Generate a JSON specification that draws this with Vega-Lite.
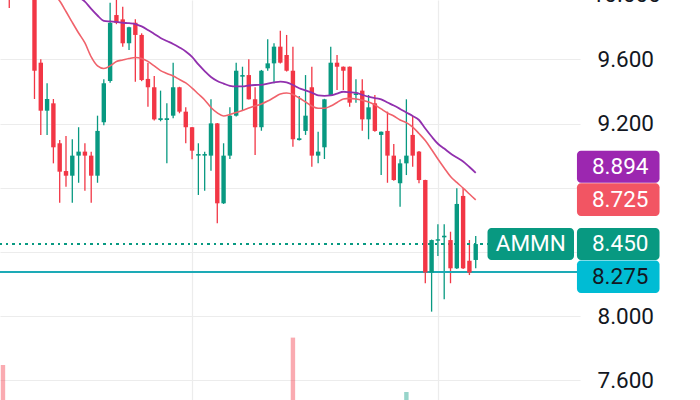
{
  "$schema": "https://vega.github.io/schema/vega-lite/v6.json",
  "width": 580,
  "height": 400,
  "autosize": "none",
  "padding": {"left": 0, "top": 0, "right": 120, "bottom": 0},
  "background": "#ffffff",
  "config": {"view": {"stroke": null}, "font": "Roboto"},
  "datasets": {
    "candles": [
      {"i":-4,"o":10.095,"h":10.15,"l":9.921,"c":10.002,"d":"d"},
      {"i":-3,"o":10.0,"h":10.14,"l":9.98,"c":10.10,"d":"u"},
      {"i":-2,"o":10.10,"h":10.15,"l":10.0,"c":10.04,"d":"d"},
      {"i":-1,"o":10.04,"h":10.12,"l":10.0,"c":10.08,"d":"u"},
      {"i":0,"o":10.08,"h":10.12,"l":9.354,"c":9.530,"d":"d","e1":10.220,"e2":10.251},
      {"i":1,"o":9.580,"h":9.601,"l":9.130,"c":9.281,"d":"d","e1":10.145,"e2":10.207},
      {"i":2,"o":9.281,"h":9.452,"l":9.130,"c":9.354,"d":"u","e1":10.077,"e2":10.164},
      {"i":3,"o":9.327,"h":9.354,"l":8.953,"c":9.053,"d":"d","e1":10.014,"e2":10.126},
      {"i":4,"o":9.078,"h":9.098,"l":8.708,"c":8.901,"d":"d","e1":9.964,"e2":10.089},
      {"i":5,"o":8.905,"h":9.123,"l":8.807,"c":8.876,"d":"d","e1":9.899,"e2":10.052},
      {"i":6,"o":8.876,"h":9.103,"l":8.708,"c":9.001,"d":"u","e1":9.831,"e2":10.021},
      {"i":7,"o":9.001,"h":9.178,"l":8.832,"c":9.026,"d":"u","e1":9.765,"e2":9.989},
      {"i":8,"o":9.026,"h":9.078,"l":8.783,"c":9.001,"d":"d","e1":9.703,"e2":9.961},
      {"i":9,"o":9.001,"h":9.026,"l":8.708,"c":8.876,"d":"d","e1":9.616,"e2":9.915},
      {"i":10,"o":8.876,"h":9.250,"l":8.832,"c":9.155,"d":"u","e1":9.560,"e2":9.874},
      {"i":11,"o":9.209,"h":9.477,"l":9.190,"c":9.452,"d":"u","e1":9.544,"e2":9.841},
      {"i":12,"o":9.466,"h":9.954,"l":9.455,"c":9.829,"d":"u","e1":9.560,"e2":9.837},
      {"i":13,"o":9.877,"h":10.00,"l":9.820,"c":9.829,"d":"d","e1":9.588,"e2":9.834},
      {"i":14,"o":9.850,"h":9.929,"l":9.680,"c":9.701,"d":"d","e1":9.597,"e2":9.829},
      {"i":15,"o":9.701,"h":9.804,"l":9.659,"c":9.801,"d":"u","e1":9.606,"e2":9.826},
      {"i":16,"o":9.829,"h":9.850,"l":9.462,"c":9.753,"d":"d","e1":9.612,"e2":9.821},
      {"i":17,"o":9.753,"h":9.763,"l":9.465,"c":9.472,"d":"d","e1":9.606,"e2":9.806},
      {"i":18,"o":9.479,"h":9.580,"l":9.306,"c":9.427,"d":"d","e1":9.588,"e2":9.784},
      {"i":19,"o":9.427,"h":9.497,"l":9.220,"c":9.227,"d":"d","e1":9.560,"e2":9.759},
      {"i":20,"o":9.223,"h":9.406,"l":9.215,"c":9.234,"d":"u","e1":9.531,"e2":9.734},
      {"i":21,"o":9.223,"h":9.327,"l":8.953,"c":9.234,"d":"u","e1":9.513,"e2":9.715},
      {"i":22,"o":9.250,"h":9.580,"l":9.234,"c":9.427,"d":"u","e1":9.497,"e2":9.697},
      {"i":23,"o":9.427,"h":9.430,"l":9.265,"c":9.275,"d":"d","e1":9.475,"e2":9.675},
      {"i":24,"o":9.275,"h":9.302,"l":9.078,"c":9.178,"d":"d","e1":9.454,"e2":9.650},
      {"i":25,"o":9.178,"h":9.180,"l":8.978,"c":9.032,"d":"d","e1":9.422,"e2":9.616},
      {"i":26,"o":9.001,"h":9.078,"l":8.756,"c":9.011,"d":"u","e1":9.385,"e2":9.569},
      {"i":27,"o":9.001,"h":9.026,"l":8.783,"c":9.011,"d":"u","e1":9.348,"e2":9.528},
      {"i":28,"o":9.001,"h":9.352,"l":8.907,"c":9.202,"d":"u","e1":9.301,"e2":9.491},
      {"i":29,"o":9.202,"h":9.205,"l":8.579,"c":8.704,"d":"d","e1":9.267,"e2":9.466},
      {"i":30,"o":8.704,"h":9.078,"l":8.700,"c":9.001,"d":"u","e1":9.248,"e2":9.450},
      {"i":31,"o":9.001,"h":9.302,"l":8.980,"c":9.250,"d":"u","e1":9.257,"e2":9.436},
      {"i":32,"o":9.250,"h":9.580,"l":9.245,"c":9.530,"d":"u","e1":9.270,"e2":9.432},
      {"i":33,"o":9.493,"h":9.555,"l":9.285,"c":9.503,"d":"u","e1":9.282,"e2":9.432},
      {"i":34,"o":9.503,"h":9.601,"l":9.350,"c":9.352,"d":"d","e1":9.298,"e2":9.438},
      {"i":35,"o":9.352,"h":9.427,"l":9.005,"c":9.178,"d":"d","e1":9.310,"e2":9.441},
      {"i":36,"o":9.178,"h":9.535,"l":9.156,"c":9.530,"d":"u","e1":9.323,"e2":9.442},
      {"i":37,"o":9.545,"h":9.726,"l":9.530,"c":9.576,"d":"u","e1":9.341,"e2":9.450},
      {"i":38,"o":9.576,"h":9.701,"l":9.452,"c":9.680,"d":"u","e1":9.363,"e2":9.457},
      {"i":39,"o":9.680,"h":9.779,"l":9.575,"c":9.580,"d":"d","e1":9.385,"e2":9.462},
      {"i":40,"o":9.628,"h":9.753,"l":9.525,"c":9.530,"d":"d","e1":9.391,"e2":9.457},
      {"i":41,"o":9.530,"h":9.680,"l":9.057,"c":9.103,"d":"d","e1":9.382,"e2":9.441},
      {"i":42,"o":9.098,"h":9.373,"l":9.095,"c":9.109,"d":"u","e1":9.360,"e2":9.421},
      {"i":43,"o":9.155,"h":9.503,"l":9.130,"c":9.250,"d":"u","e1":9.335,"e2":9.408},
      {"i":44,"o":9.427,"h":9.555,"l":8.932,"c":9.001,"d":"d","e1":9.310,"e2":9.394},
      {"i":45,"o":9.001,"h":9.150,"l":8.953,"c":9.026,"d":"u","e1":9.296,"e2":9.376},
      {"i":46,"o":9.053,"h":9.355,"l":8.980,"c":9.352,"d":"u","e1":9.296,"e2":9.373},
      {"i":47,"o":9.379,"h":9.680,"l":9.375,"c":9.580,"d":"u","e1":9.310,"e2":9.376},
      {"i":48,"o":9.580,"h":9.628,"l":9.410,"c":9.555,"d":"d","e1":9.332,"e2":9.388},
      {"i":49,"o":9.555,"h":9.556,"l":9.410,"c":9.530,"d":"d","e1":9.354,"e2":9.399},
      {"i":50,"o":9.555,"h":9.556,"l":9.306,"c":9.331,"d":"d","e1":9.358,"e2":9.396},
      {"i":51,"o":9.379,"h":9.477,"l":9.331,"c":9.389,"d":"u","e1":9.354,"e2":9.393},
      {"i":52,"o":9.406,"h":9.477,"l":9.156,"c":9.227,"d":"d","e1":9.346,"e2":9.380},
      {"i":53,"o":9.227,"h":9.379,"l":9.103,"c":9.302,"d":"u","e1":9.335,"e2":9.368},
      {"i":54,"o":9.327,"h":9.379,"l":9.150,"c":9.155,"d":"d","e1":9.317,"e2":9.360},
      {"i":55,"o":9.130,"h":9.152,"l":8.880,"c":9.150,"d":"u","e1":9.292,"e2":9.352},
      {"i":56,"o":9.155,"h":9.275,"l":8.832,"c":9.001,"d":"d","e1":9.267,"e2":9.332},
      {"i":57,"o":9.001,"h":9.074,"l":8.845,"c":8.849,"d":"d","e1":9.248,"e2":9.313},
      {"i":58,"o":8.829,"h":8.978,"l":8.683,"c":8.953,"d":"u","e1":9.223,"e2":9.292},
      {"i":59,"o":8.953,"h":9.352,"l":8.880,"c":9.001,"d":"u","e1":9.207,"e2":9.270},
      {"i":60,"o":9.130,"h":9.248,"l":8.932,"c":9.001,"d":"d","e1":9.179,"e2":9.248},
      {"i":61,"o":9.026,"h":9.030,"l":8.829,"c":8.849,"d":"d","e1":9.139,"e2":9.223},
      {"i":62,"o":8.849,"h":8.850,"l":8.206,"c":8.272,"d":"d","e1":9.095,"e2":9.170},
      {"i":63,"o":8.272,"h":8.478,"l":8.029,"c":8.475,"d":"u","e1":9.039,"e2":9.120},
      {"i":64,"o":8.471,"h":8.573,"l":8.376,"c":8.480,"d":"u","e1":8.980,"e2":9.075},
      {"i":65,"o":8.492,"h":8.573,"l":8.106,"c":8.502,"d":"u","e1":8.924,"e2":9.045},
      {"i":66,"o":8.475,"h":8.527,"l":8.206,"c":8.299,"d":"d","e1":8.871,"e2":9.014},
      {"i":67,"o":8.299,"h":8.798,"l":8.295,"c":8.700,"d":"u","e1":8.834,"e2":8.989},
      {"i":68,"o":8.750,"h":8.798,"l":8.295,"c":8.299,"d":"d","e1":8.799,"e2":8.964},
      {"i":69,"o":8.346,"h":8.475,"l":8.257,"c":8.272,"d":"d","e1":8.762,"e2":8.930},
      {"i":70,"o":8.351,"h":8.500,"l":8.299,"c":8.450,"d":"u","e1":8.725,"e2":8.894}
    ],
    "volume": [
      {"i":-5,"vol":1.75,"d":"d"},
      {"i":41,"vol":3.12,"d":"d"},
      {"i":59,"vol":0.40,"d":"u"}
    ],
    "tags": [
      {"k":"ma2","label":"8.894","x0":86.06,"x1":99.16,"y0":9.0318,"y1":8.8324,"tx":92.92,"ty":8.932},
      {"k":"ma1","label":"8.725","x0":86.06,"x1":99.16,"y0":8.8287,"y1":8.6249,"tx":92.92,"ty":8.726},
      {"k":"last","label":"8.450","x0":86.06,"x1":99.16,"y0":8.5502,"y1":8.3508,"tx":92.92,"ty":8.450},
      {"k":"lvl","label":"8.275","x0":86.06,"x1":99.16,"y0":8.3476,"y1":8.1452,"tx":92.92,"ty":8.246},
      {"k":"last","label":"AMMN","x0":71.87,"x1":85.59,"y0":8.5502,"y1":8.3508,"tx":78.73,"ty":8.450}
    ],
    "toptick": [{"v":10.0,"t":"10.000","tx":88.4}]
  },
  "layer": [
    {
      "data": {"name": "volume"},
      "mark": {"type": "bar", "size": 4.4, "opacity": 0.42, "clip": true},
      "encoding": {
        "x": {"field": "i", "type": "quantitative", "scale": {"domain": [-4.677, 85.75], "nice": false, "zero": false},
              "axis": {"values": [25, 64], "grid": true, "gridColor": "#ececec", "gridWidth": 1.2, "labels": false, "ticks": false, "domain": false, "title": null}},
        "y": {"field": "vol", "type": "quantitative", "scale": {"domain": [0, 20], "nice": false}, "axis": null},
        "color": {"field": "d", "type": "nominal", "legend": null,
                  "scale": {"domain": ["u","d","ma1","ma2","last","lvl"], "range": ["#089981","#F23645","#F25563","#9C27B0","#089981","#00BCD4"]}}
      }
    },
    {
      "layer": [
        {
          "data": {"name": "candles"},
          "mark": {"type": "rule", "strokeWidth": 1.3, "clip": true},
          "encoding": {
            "x": {"field": "i", "type": "quantitative", "scale": {"domain": [-4.677, 85.75], "nice": false, "zero": false},
                  "axis": {"values": [25, 64], "grid": true, "gridColor": "#ececec", "gridWidth": 1.2, "labels": false, "ticks": false, "domain": false, "title": null}},
            "y": {"field": "l", "type": "quantitative", "scale": {"domain": [7.4785, 9.9707], "nice": false, "zero": false},
                  "axis": {"orient": "right", "values": [7.6, 8, 8.4, 8.8, 9.2, 9.6], "format": ".3f", "labelExpr": "datum.value == 8.4 || datum.value == 8.8 ? '' : datum.label", "grid": true, "gridColor": "#ececec", "gridWidth": 1.2, "ticks": false, "domain": false, "labelPadding": 17, "labelFontSize": 22.5, "labelFont": "Roboto", "labelColor": "#131722", "labelAlign": "left", "labelBaseline": "middle", "labelOverlap": false, "labelFlush": false, "title": null}},
            "y2": {"field": "h"},
            "color": {"field": "d", "type": "nominal", "legend": null,
                      "scale": {"domain": ["u","d","ma1","ma2","last","lvl"], "range": ["#089981","#F23645","#F25563","#9C27B0","#089981","#00BCD4"]}}
          }
        },
        {
          "data": {"name": "candles"},
          "mark": {"type": "rule", "color": "#089981", "strokeWidth": 2, "strokeDash": [2, 4.5]},
          "encoding": {"y": {"datum": 8.45, "type": "quantitative", "scale": {"domain": [7.4785, 9.9707], "nice": false, "zero": false},
                  "axis": {"orient": "right", "values": [7.6, 8, 8.4, 8.8, 9.2, 9.6], "format": ".3f", "labelExpr": "datum.value == 8.4 || datum.value == 8.8 ? '' : datum.label", "grid": true, "gridColor": "#ececec", "gridWidth": 1.2, "ticks": false, "domain": false, "labelPadding": 17, "labelFontSize": 22.5, "labelFont": "Roboto", "labelColor": "#131722", "labelAlign": "left", "labelBaseline": "middle", "labelOverlap": false, "labelFlush": false, "title": null}}}
        },
        {
          "data": {"name": "candles"},
          "mark": {"type": "rule", "color": "#1DAAB6", "strokeWidth": 1.8},
          "encoding": {"y": {"datum": 8.275, "type": "quantitative", "scale": {"domain": [7.4785, 9.9707], "nice": false, "zero": false},
                  "axis": {"orient": "right", "values": [7.6, 8, 8.4, 8.8, 9.2, 9.6], "format": ".3f", "labelExpr": "datum.value == 8.4 || datum.value == 8.8 ? '' : datum.label", "grid": true, "gridColor": "#ececec", "gridWidth": 1.2, "ticks": false, "domain": false, "labelPadding": 17, "labelFontSize": 22.5, "labelFont": "Roboto", "labelColor": "#131722", "labelAlign": "left", "labelBaseline": "middle", "labelOverlap": false, "labelFlush": false, "title": null}}}
        },
        {
          "data": {"name": "candles"},
          "mark": {"type": "bar", "size": 4.4, "clip": true},
          "encoding": {
            "x": {"field": "i", "type": "quantitative", "scale": {"domain": [-4.677, 85.75], "nice": false, "zero": false},
                  "axis": {"values": [25, 64], "grid": true, "gridColor": "#ececec", "gridWidth": 1.2, "labels": false, "ticks": false, "domain": false, "title": null}},
            "y": {"field": "o", "type": "quantitative", "scale": {"domain": [7.4785, 9.9707], "nice": false, "zero": false},
                  "axis": {"orient": "right", "values": [7.6, 8, 8.4, 8.8, 9.2, 9.6], "format": ".3f", "labelExpr": "datum.value == 8.4 || datum.value == 8.8 ? '' : datum.label", "grid": true, "gridColor": "#ececec", "gridWidth": 1.2, "ticks": false, "domain": false, "labelPadding": 17, "labelFontSize": 22.5, "labelFont": "Roboto", "labelColor": "#131722", "labelAlign": "left", "labelBaseline": "middle", "labelOverlap": false, "labelFlush": false, "title": null}},
            "y2": {"field": "c"},
            "color": {"field": "d", "type": "nominal", "legend": null,
                      "scale": {"domain": ["u","d","ma1","ma2","last","lvl"], "range": ["#089981","#F23645","#F25563","#9C27B0","#089981","#00BCD4"]}}
          }
        },
        {
          "data": {"name": "candles"},
          "mark": {"type": "line", "color": "#F0626B", "strokeWidth": 1.6, "clip": true, "interpolate": "monotone"},
          "encoding": {
            "x": {"field": "i", "type": "quantitative", "scale": {"domain": [-4.677, 85.75], "nice": false, "zero": false},
                  "axis": {"values": [25, 64], "grid": true, "gridColor": "#ececec", "gridWidth": 1.2, "labels": false, "ticks": false, "domain": false, "title": null}},
            "y": {"field": "e1", "type": "quantitative", "scale": {"domain": [7.4785, 9.9707], "nice": false, "zero": false},
                  "axis": {"orient": "right", "values": [7.6, 8, 8.4, 8.8, 9.2, 9.6], "format": ".3f", "labelExpr": "datum.value == 8.4 || datum.value == 8.8 ? '' : datum.label", "grid": true, "gridColor": "#ececec", "gridWidth": 1.2, "ticks": false, "domain": false, "labelPadding": 17, "labelFontSize": 22.5, "labelFont": "Roboto", "labelColor": "#131722", "labelAlign": "left", "labelBaseline": "middle", "labelOverlap": false, "labelFlush": false, "title": null}}
          }
        },
        {
          "data": {"name": "candles"},
          "mark": {"type": "line", "color": "#9130AE", "strokeWidth": 1.8, "clip": true, "interpolate": "monotone"},
          "encoding": {
            "x": {"field": "i", "type": "quantitative", "scale": {"domain": [-4.677, 85.75], "nice": false, "zero": false},
                  "axis": {"values": [25, 64], "grid": true, "gridColor": "#ececec", "gridWidth": 1.2, "labels": false, "ticks": false, "domain": false, "title": null}},
            "y": {"field": "e2", "type": "quantitative", "scale": {"domain": [7.4785, 9.9707], "nice": false, "zero": false},
                  "axis": {"orient": "right", "values": [7.6, 8, 8.4, 8.8, 9.2, 9.6], "format": ".3f", "labelExpr": "datum.value == 8.4 || datum.value == 8.8 ? '' : datum.label", "grid": true, "gridColor": "#ececec", "gridWidth": 1.2, "ticks": false, "domain": false, "labelPadding": 17, "labelFontSize": 22.5, "labelFont": "Roboto", "labelColor": "#131722", "labelAlign": "left", "labelBaseline": "middle", "labelOverlap": false, "labelFlush": false, "title": null}}
          }
        },
        {
          "data": {"name": "tags"},
          "mark": {"type": "rect", "cornerRadius": 4},
          "encoding": {
            "x": {"field": "x0", "type": "quantitative", "scale": {"domain": [-4.677, 85.75], "nice": false, "zero": false},
                  "axis": {"values": [25, 64], "grid": true, "gridColor": "#ececec", "gridWidth": 1.2, "labels": false, "ticks": false, "domain": false, "title": null}},
            "x2": {"field": "x1"},
            "y": {"field": "y0", "type": "quantitative", "scale": {"domain": [7.4785, 9.9707], "nice": false, "zero": false},
                  "axis": {"orient": "right", "values": [7.6, 8, 8.4, 8.8, 9.2, 9.6], "format": ".3f", "labelExpr": "datum.value == 8.4 || datum.value == 8.8 ? '' : datum.label", "grid": true, "gridColor": "#ececec", "gridWidth": 1.2, "ticks": false, "domain": false, "labelPadding": 17, "labelFontSize": 22.5, "labelFont": "Roboto", "labelColor": "#131722", "labelAlign": "left", "labelBaseline": "middle", "labelOverlap": false, "labelFlush": false, "title": null}},
            "y2": {"field": "y1"},
            "color": {"field": "k", "type": "nominal", "legend": null,
                      "scale": {"domain": ["u","d","ma1","ma2","last","lvl"], "range": ["#089981","#F23645","#F25563","#9C27B0","#089981","#00BCD4"]}}
          }
        },
        {
          "data": {"name": "tags"},
          "mark": {"type": "text", "fontSize": 22.5, "font": "Roboto", "align": "center", "baseline": "middle"},
          "encoding": {
            "x": {"field": "tx", "type": "quantitative", "scale": {"domain": [-4.677, 85.75], "nice": false, "zero": false},
                  "axis": {"values": [25, 64], "grid": true, "gridColor": "#ececec", "gridWidth": 1.2, "labels": false, "ticks": false, "domain": false, "title": null}},
            "y": {"field": "ty", "type": "quantitative", "scale": {"domain": [7.4785, 9.9707], "nice": false, "zero": false},
                  "axis": {"orient": "right", "values": [7.6, 8, 8.4, 8.8, 9.2, 9.6], "format": ".3f", "labelExpr": "datum.value == 8.4 || datum.value == 8.8 ? '' : datum.label", "grid": true, "gridColor": "#ececec", "gridWidth": 1.2, "ticks": false, "domain": false, "labelPadding": 17, "labelFontSize": 22.5, "labelFont": "Roboto", "labelColor": "#131722", "labelAlign": "left", "labelBaseline": "middle", "labelOverlap": false, "labelFlush": false, "title": null}},
            "text": {"field": "label"},
            "color": {"condition": {"test": "datum.k == 'lvl'", "value": "#131722"}, "value": "#ffffff"}
          }
        },
        {
          "data": {"name": "toptick"},
          "mark": {"type": "text", "fontSize": 22.5, "font": "Roboto", "align": "left", "baseline": "middle", "color": "#131722"},
          "encoding": {
            "x": {"field": "tx", "type": "quantitative", "scale": {"domain": [-4.677, 85.75], "nice": false, "zero": false},
                  "axis": {"values": [25, 64], "grid": true, "gridColor": "#ececec", "gridWidth": 1.2, "labels": false, "ticks": false, "domain": false, "title": null}},
            "y": {"field": "v", "type": "quantitative", "scale": {"domain": [7.4785, 9.9707], "nice": false, "zero": false},
                  "axis": {"orient": "right", "values": [7.6, 8, 8.4, 8.8, 9.2, 9.6], "format": ".3f", "labelExpr": "datum.value == 8.4 || datum.value == 8.8 ? '' : datum.label", "grid": true, "gridColor": "#ececec", "gridWidth": 1.2, "ticks": false, "domain": false, "labelPadding": 17, "labelFontSize": 22.5, "labelFont": "Roboto", "labelColor": "#131722", "labelAlign": "left", "labelBaseline": "middle", "labelOverlap": false, "labelFlush": false, "title": null}},
            "text": {"field": "t"}
          }
        }
      ]
    }
  ],
  "resolve": {"scale": {"y": "independent"}}
}
